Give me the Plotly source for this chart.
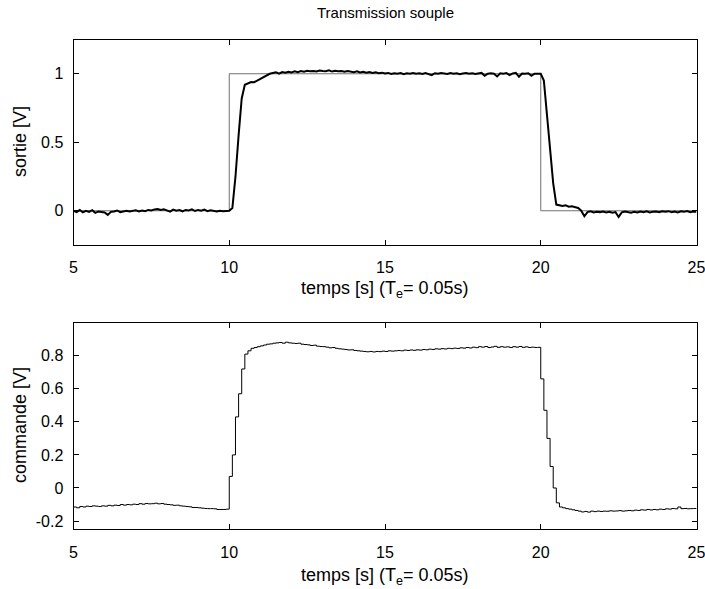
import plotly.graph_objects as go

# ---------------- data ----------------
t_start = 5.0
t_step = 0.1  # resampled from Te = 0.05 s

# sortie [V] (measured output), 5.0 .. 25.0 s every 0.1 s
sortie = [
    0.000, -0.010, 0.005, -0.012, 0.000, -0.008, 0.004, -0.015, -0.005, -0.010,
    -0.012, -0.030, -0.008, -0.005, 0.002, -0.010, -0.004, 0.000, -0.006, -0.002,
    0.003, -0.005, 0.002, -0.003, 0.006, 0.002, 0.010, 0.012, 0.005, 0.010,
    0.004, -0.006, 0.008, 0.000, 0.005, -0.004, 0.006, 0.002, 0.010, -0.002,
    0.006, 0.000, 0.008, -0.003, 0.004, 0.001, -0.005, 0.000, -0.004, -0.002,
    0.000, 0.020, 0.250, 0.550, 0.820, 0.920, 0.930, 0.940, 0.938, 0.950,
    0.960, 0.975, 0.990, 1.000, 1.005, 1.010, 1.000, 1.012, 1.008, 1.015,
    1.010, 1.018, 1.012, 1.020, 1.015, 1.022, 1.018, 1.020, 1.016, 1.024,
    1.020, 1.018, 1.025, 1.016, 1.022, 1.018, 1.020, 1.014, 1.020, 1.016,
    1.012, 1.018, 1.010, 1.015, 1.008, 1.012, 1.006, 1.010, 1.004, 1.008,
    1.002, 1.006, 0.998, 1.004, 1.000, 1.005, 0.996, 1.003, 1.000, 1.006,
    1.000, 1.004, 0.998, 1.005, 1.000, 0.990, 1.004, 1.000, 1.006, 1.002,
    0.998, 1.005, 1.000, 1.004, 0.996, 1.002, 1.006, 1.000, 1.004, 0.998,
    1.002, 1.006, 0.985, 1.000, 1.004, 1.000, 0.980, 1.003, 1.000, 1.005,
    0.990, 1.002, 1.006, 0.978, 1.002, 1.000, 1.004, 0.985, 1.000, 1.002,
    1.000, 0.950, 0.700, 0.450, 0.200, 0.045, 0.040, 0.035, 0.040, 0.030,
    0.032, 0.025, 0.020, 0.000, -0.040, -0.010, -0.004, -0.012, -0.008, -0.010,
    -0.005, -0.012, -0.008, -0.015, -0.010, -0.045, -0.012, -0.006, -0.010, -0.014,
    -0.008, -0.012, -0.005, -0.010, -0.004, -0.012, -0.008, -0.006, -0.010, -0.004,
    -0.008, -0.003, -0.010, -0.006, -0.012, -0.004, -0.008, -0.002, -0.010, -0.006,
    -0.008,
]

# commande [V] (control signal), 5.0 .. 25.0 s every 0.1 s
commande = [
    -0.115, -0.120, -0.112, -0.115, -0.110, -0.112, -0.108, -0.110, -0.112, -0.108,
    -0.110, -0.105, -0.108, -0.104, -0.106, -0.100, -0.104, -0.100, -0.102, -0.098,
    -0.100, -0.095, -0.098, -0.094, -0.096, -0.095, -0.092, -0.096, -0.094, -0.098,
    -0.100, -0.102, -0.105, -0.104, -0.108, -0.110, -0.112, -0.114, -0.118, -0.118,
    -0.120, -0.122, -0.124, -0.125, -0.125, -0.126, -0.130, -0.130, -0.130, -0.128,
    0.070, 0.200, 0.430, 0.570, 0.720, 0.810, 0.830, 0.845, 0.850, 0.855,
    0.860, 0.865, 0.870, 0.872, 0.876, 0.878, 0.880, 0.876, 0.882, 0.878,
    0.876, 0.874, 0.876, 0.870, 0.868, 0.866, 0.862, 0.864, 0.858, 0.856,
    0.855, 0.852, 0.848, 0.850, 0.845, 0.842, 0.840, 0.838, 0.835, 0.836,
    0.832, 0.830, 0.828, 0.826, 0.824, 0.826, 0.823, 0.826, 0.825, 0.828,
    0.826, 0.830, 0.828, 0.830, 0.832, 0.830, 0.834, 0.832, 0.835, 0.833,
    0.836, 0.834, 0.838, 0.836, 0.840, 0.838, 0.842, 0.840, 0.843, 0.841,
    0.845, 0.843, 0.846, 0.844, 0.848, 0.846, 0.850, 0.847, 0.852, 0.849,
    0.855, 0.852, 0.856, 0.850, 0.853, 0.857, 0.851, 0.855, 0.852, 0.854,
    0.850, 0.855, 0.852, 0.856, 0.851, 0.854, 0.850, 0.852, 0.850, 0.851,
    0.660, 0.470, 0.300, 0.130, 0.000, -0.090, -0.115, -0.120, -0.125, -0.128,
    -0.132, -0.136, -0.140, -0.145, -0.142, -0.146, -0.140, -0.143, -0.140, -0.142,
    -0.140, -0.141, -0.138, -0.140, -0.139, -0.137, -0.140, -0.138, -0.136, -0.138,
    -0.134, -0.136, -0.132, -0.134, -0.130, -0.133, -0.130, -0.132, -0.128, -0.130,
    -0.126, -0.128, -0.124, -0.126, -0.115, -0.125, -0.124, -0.126, -0.125, -0.124,
    -0.125,
]

# reference (consigne) step
consigne_t = [5, 10, 10, 20, 20, 25]
consigne_v = [0, 0, 1, 1, 0, 0]

x_ticks = [5, 10, 15, 20, 25]
x_ticklabels = ["5", "10", "15", "20", "25"]
y1_ticks = [0, 0.5, 1]
y1_ticklabels = ["0", "0.5", "1"]
y2_ticks = [-0.2, 0, 0.2, 0.4, 0.6, 0.8]
y2_ticklabels = ["-0.2", "0", "0.2", "0.4", "0.6", "0.8"]

title_text = "Transmission souple"
xlabel_text = "temps [s] (T<sub>e</sub>= 0.05s)"
ylabel1_text = "sortie [V]"
ylabel2_text = "commande [V]"

t = [round(t_start + i * t_step, 2) for i in range(len(sortie))]

# ---------------- figure ----------------
W, H = 705, 589
FONT = "Liberation Sans, Arial, sans-serif"

fig = go.Figure()
fig.add_trace(go.Scatter(x=consigne_t, y=consigne_v, mode="lines",
                         line=dict(color="#707070", width=1),
                         xaxis="x", yaxis="y", showlegend=False))
fig.add_trace(go.Scatter(x=t, y=sortie, mode="lines",
                         line=dict(color="black", width=2),
                         xaxis="x", yaxis="y", showlegend=False))
fig.add_trace(go.Scatter(x=t, y=commande, mode="lines",
                         line=dict(color="black", width=1, shape="hv"),
                         xaxis="x2", yaxis="y2", showlegend=False))

def px_x(p):
    return p / W

def px_y(p):
    return 1 - p / H

x_dom = [px_x(73.5), px_x(696.5)]
x_rng = [4.9999, 25.0001]
axis_common = dict(showline=True, linecolor="black", linewidth=1, mirror="ticks",
                   ticks="inside", ticklen=5, tickcolor="black", showgrid=False,
                   zeroline=False, ticklabeloverflow="allow", automargin=False,
                   tickfont=dict(family=FONT, size=16, color="black"))

fig.update_layout(
    width=W, height=H, autosize=False,
    margin=dict(l=0, r=0, t=0, b=0),
    paper_bgcolor="white", plot_bgcolor="white",
    xaxis=dict(domain=x_dom, range=x_rng, anchor="y", tickvals=x_ticks,
               ticktext=x_ticklabels, ticklabelstandoff=8, **axis_common),
    yaxis=dict(domain=[px_y(245), px_y(39.5)], range=[-0.25, 1.25], anchor="x",
               tickvals=y1_ticks, ticktext=y1_ticklabels, ticklabelstandoff=6,
               **axis_common),
    xaxis2=dict(domain=x_dom, range=x_rng, anchor="y2", tickvals=x_ticks,
                ticktext=x_ticklabels, ticklabelstandoff=8, **axis_common),
    yaxis2=dict(domain=[px_y(529.3), px_y(322.7)], range=[-0.25, 1.0], anchor="x2",
                tickvals=y2_ticks, ticktext=y2_ticklabels, ticklabelstandoff=6,
                **axis_common),
)

ann_font = dict(family=FONT, size=18, color="black")
fig.add_annotation(text=title_text, x=px_x(385), y=px_y(13), xref="paper", yref="paper",
                   showarrow=False, font=dict(family=FONT, size=15, color="black"),
                   xanchor="center", yanchor="middle")
fig.add_annotation(text=xlabel_text, x=px_x(385), y=px_y(289), xref="paper", yref="paper",
                   showarrow=False, font=ann_font, xanchor="center", yanchor="middle")
fig.add_annotation(text=xlabel_text, x=px_x(385), y=px_y(576), xref="paper", yref="paper",
                   showarrow=False, font=ann_font, xanchor="center", yanchor="middle")
fig.add_annotation(text=ylabel1_text, x=px_x(20), y=px_y(142), xref="paper", yref="paper",
                   showarrow=False, font=ann_font, textangle=-90,
                   xanchor="center", yanchor="middle")
fig.add_annotation(text=ylabel2_text, x=px_x(20), y=px_y(425), xref="paper", yref="paper",
                   showarrow=False, font=ann_font, textangle=-90,
                   xanchor="center", yanchor="middle")

fig.write_html("out.html",
               config={"displayModeBar": False},
               post_script="document.body.style.margin='0px';"
                           "document.body.style.overflow='hidden';")
